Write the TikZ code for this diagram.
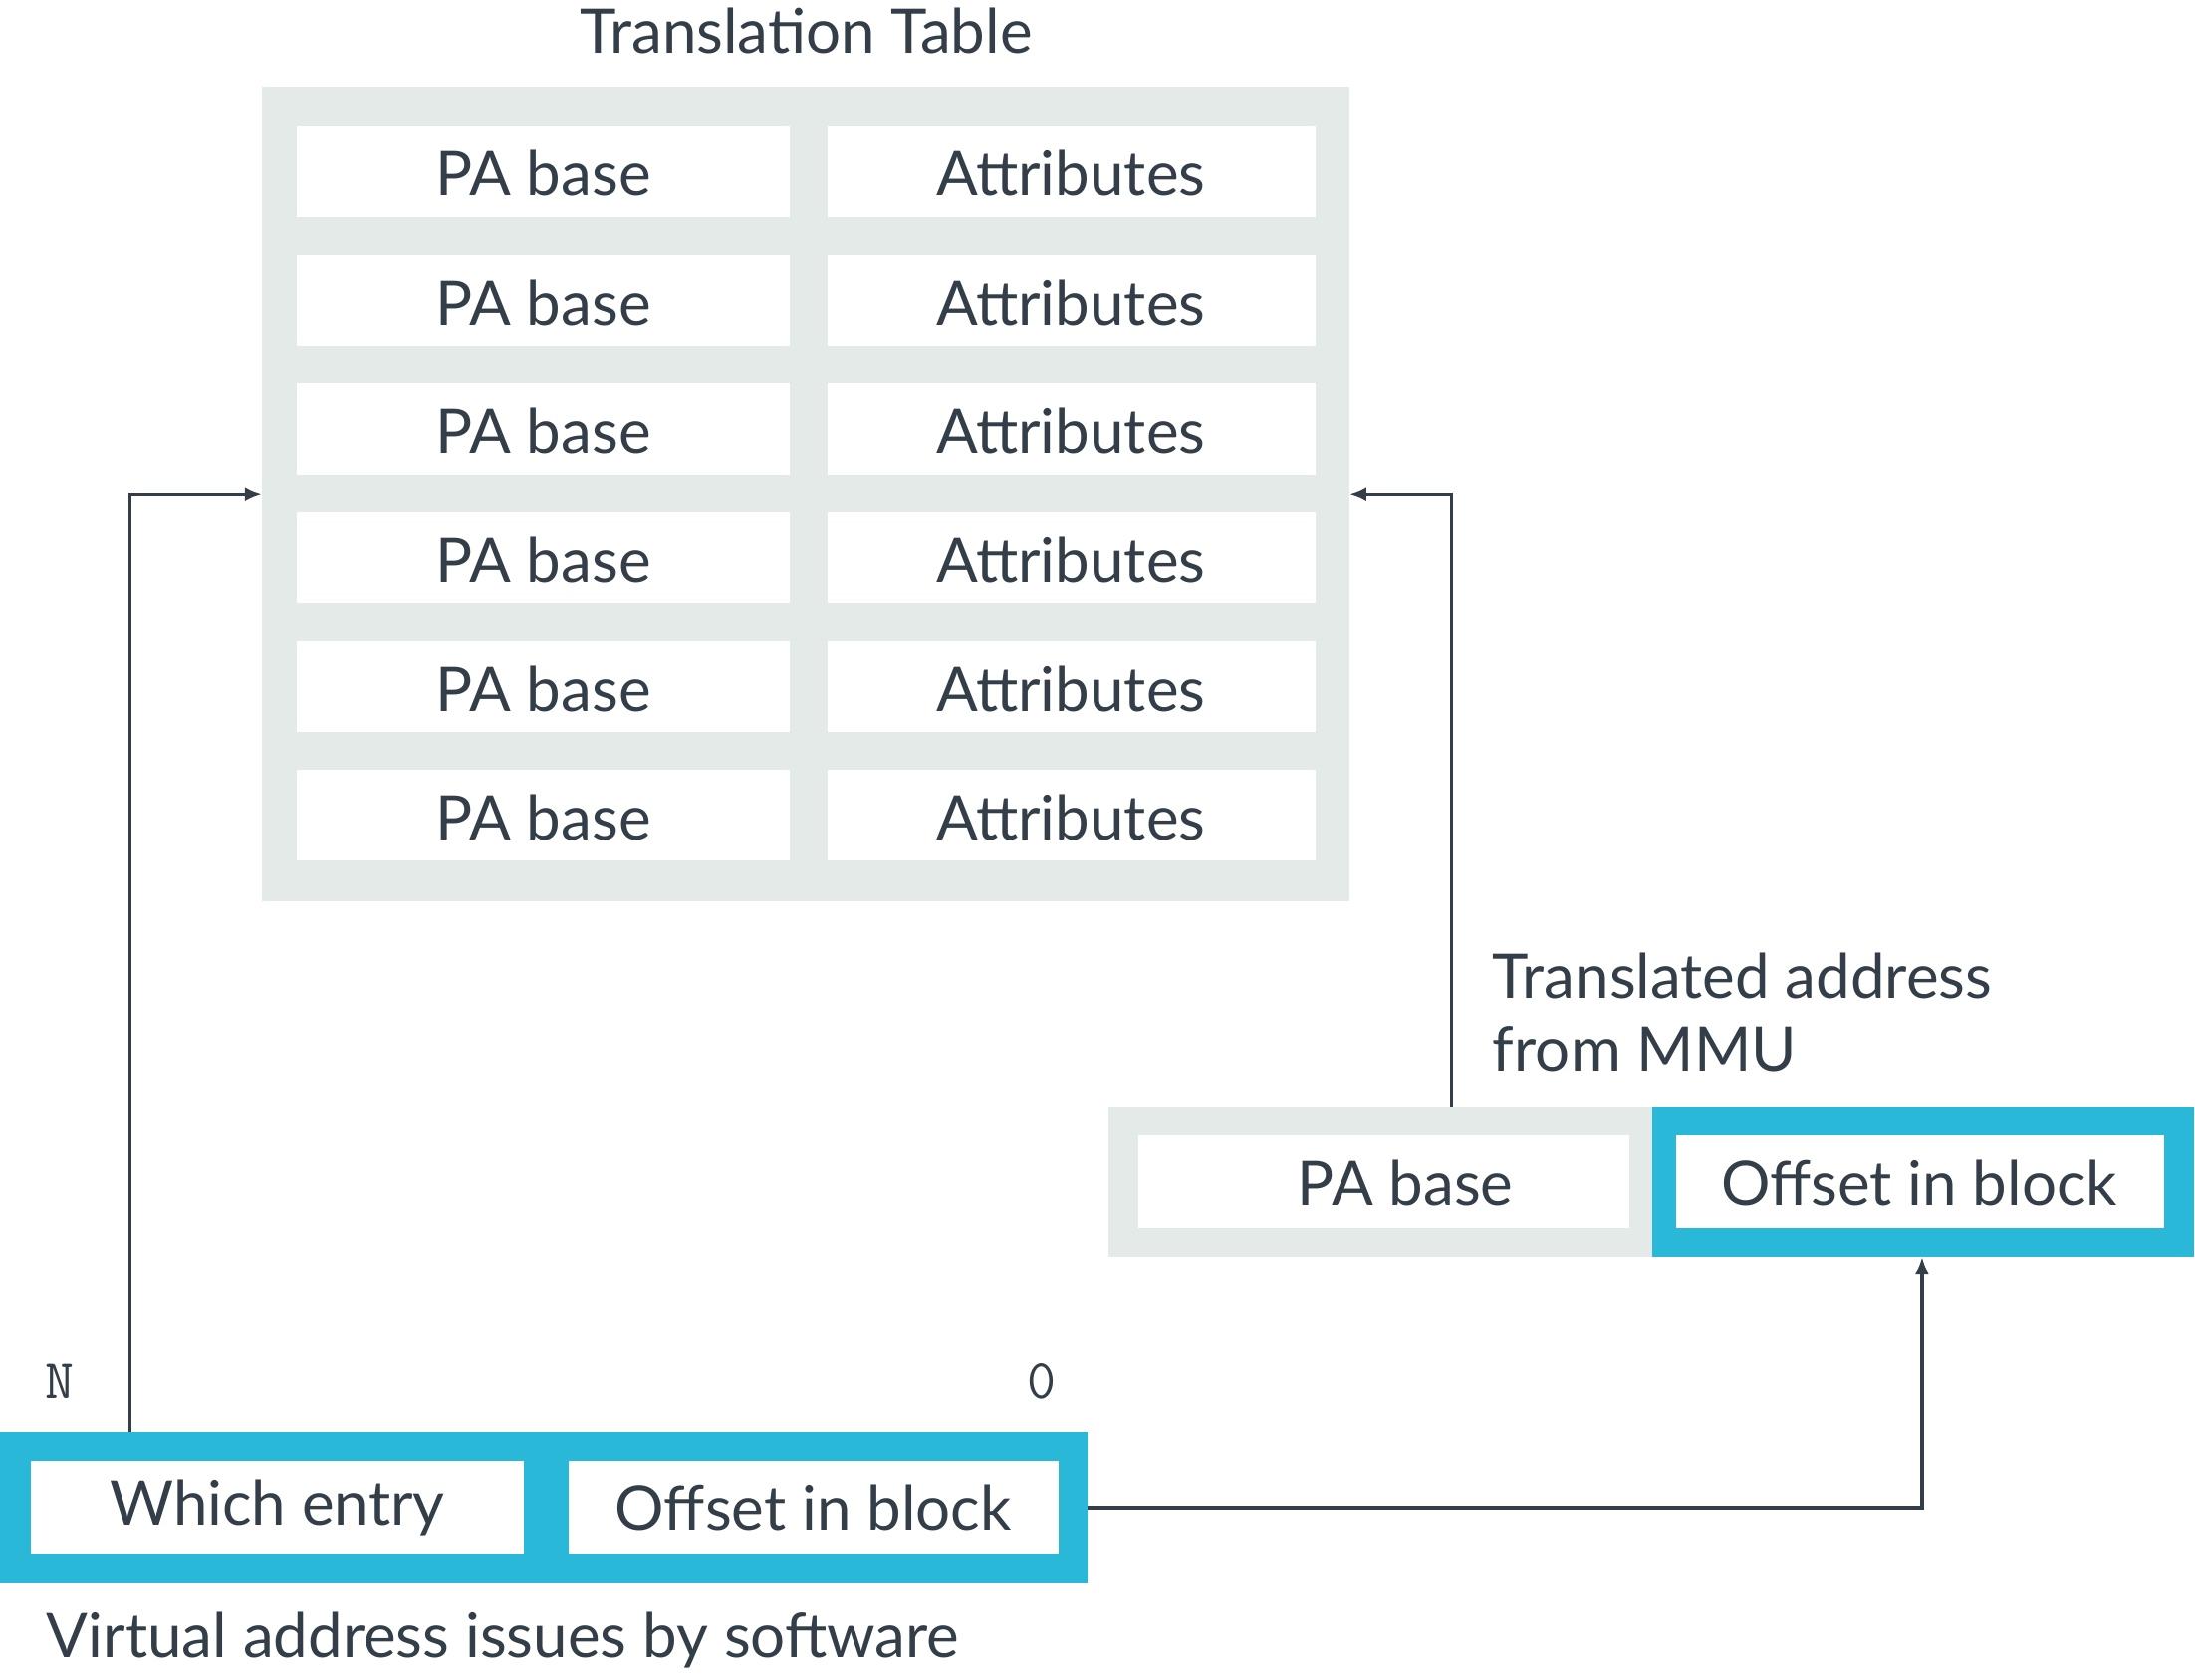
\documentclass[tikz,border=0pt]{standalone}
\usepackage{fontspec}
\setmainfont{Lato}
\usetikzlibrary{arrows.meta}
\definecolor{gr}{HTML}{E3EAE8}
\definecolor{cy}{HTML}{29B8D8}
\definecolor{tx}{HTML}{333E48}
\begin{document}
\begin{tikzpicture}[x=0.5pt,y=-0.5pt,
  cell/.style={fill=white,draw=none,inner sep=0,text=tx,font=\fontsize{22}{26}\selectfont},
  lbl/.style={text=tx,inner sep=0,font=\fontsize{22}{26}\selectfont},
  arr/.style={draw=tx,line width=1.2pt,-{Latex[length=6pt,width=5pt]}}]
\useasboundingbox (0,0) rectangle (1568,1200);
\fill[gr] (187,62) rectangle (964,644);
\coordinate (tl) at (187,353);
\coordinate (tr) at (964,353);
\node[lbl] (title) at (576,22) {Translation Table};
\foreach \i/\y in {1/90,2/182,3/274,4/366,5/458,6/550}{
  \fill[white] (212,\y) rectangle (564,\y+65);
  \fill[white] (591,\y) rectangle (940,\y+65);
  \node[lbl] (pa\i) at (388,\y+34) {PA base};
  \node[lbl] (at\i) at (765,\y+34) {Attributes};
}
% result
\fill[gr] (792,791) rectangle (1180,898);
\fill[white] (813,811) rectangle (1164,877);
\node[lbl] (rpa) at (1004,845) {PA base};
\fill[cy] (1180,791) rectangle (1567,898);
\fill[white] (1197,811) rectangle (1546,877);
\node[lbl] (roff) at (1371,845) {Offset in block};
\coordinate (rtop) at (1037,791);
\coordinate (roffb) at (1373,898);
\node[lbl,anchor=west,align=left] (tam) at (1066,723) {Translated address\\from MMU};
% VA
\fill[cy] (0,1023) rectangle (777,1131);
\fill[white] (22,1044) rectangle (374,1110);
\fill[white] (406,1044) rectangle (756,1110);
\node[lbl] (we) at (198,1077) {Which entry};
\node[lbl] (voff) at (581,1077) {Offset in block};
\coordinate (vtop) at (93,1023);
\coordinate (vright) at (777,1077);
\node[lbl,font=\ttfamily\fontsize{20}{24}\selectfont] (n) at (43,987) {N};
\node[lbl,font=\ttfamily\fontsize{20}{24}\selectfont] (z) at (744,987) {0};
\node[lbl,anchor=west] (va) at (33,1172) {Virtual address issues by software};
\draw[arr] (vtop) |- (tl);
\draw[arr] (rtop) |- (tr);
\draw[arr] (vright) -| (roffb);
\end{tikzpicture}
\end{document}
